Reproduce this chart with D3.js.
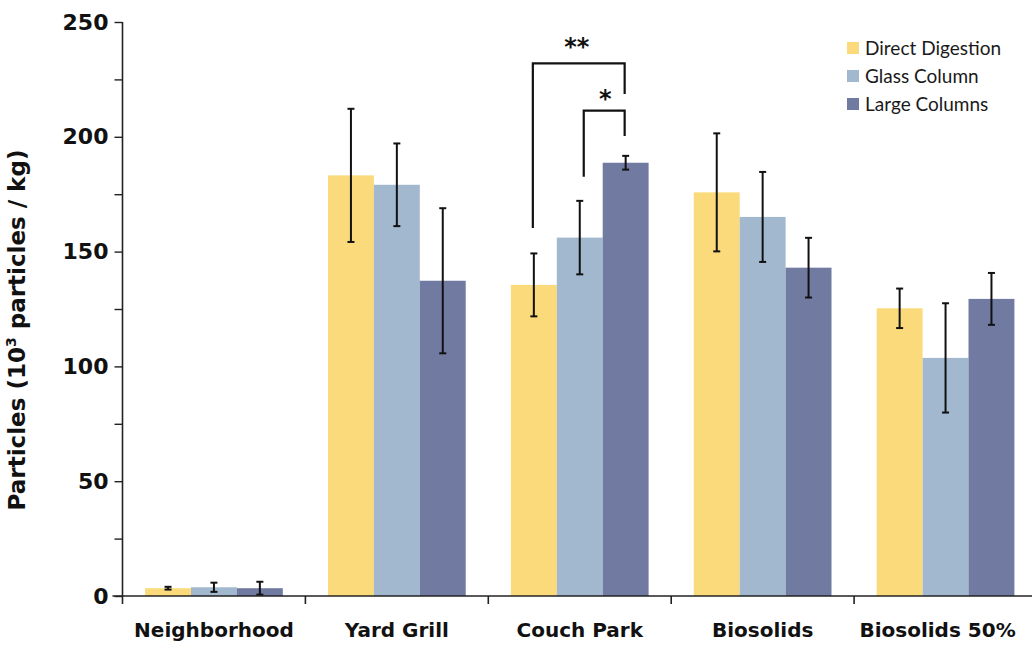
<!DOCTYPE html>
<html>
<head>
<meta charset="utf-8">
<script src="https://cdn.jsdelivr.net/npm/d3@7"></script>
<style>
  body { margin: 0; background: #fff; }
  svg { display: block; }
</style>
</head>
<body>
<div class="chart"></div>
<script>
// data
const categories = ['Neighborhood', 'Yard Grill', 'Couch Park', 'Biosolids', 'Biosolids 50%'];
const seriesNames = ['Direct Digestion', 'Glass Column', 'Large Columns'];
const directDigestion = [3.4, 183.2, 135.5, 175.8, 125.3];
const directDigestionErr = [0.6, 29, 13.7, 25.7, 8.6];
const glassColumn = [3.8, 179.1, 156.1, 165.1, 103.7];
const glassColumnErr = [2, 18, 16, 19.6, 23.8];
const largeColumns = [3.4, 137.3, 188.7, 143, 129.4];
const largeColumnsErr = [2.8, 31.6, 3, 13, 11.3];
const yTicks = [0, 50, 100, 150, 200, 250];
// significance brackets on Couch Park (values in data units)
const brackets = [
    { cat: 'Couch Park', from: 0, to: 2, label: '**', top: 232, fromBottom: 160.3, toBottom: 218.6, gap: 8 },
    { cat: 'Couch Park', from: 1, to: 2, label: '*', top: 211.4, fromBottom: 182.6, toBottom: 200.3, gap: 4 }
];

const colors = ['#FADA7A', '#A1B8CE', '#717BA2'];

const W = 1032, H = 646;
const margin = { top: 22, right: -5, bottom: 50, left: 122.5 };
const width = W - margin.left - margin.right;
const height = H - margin.top - margin.bottom;

const svg = d3.select('.chart')
    .append('svg')
    .attr('width', W)
    .attr('height', H)
    .append('g')
    .attr('transform', 'translate(' + margin.left + ',' + margin.top + ')');

const values = [directDigestion, glassColumn, largeColumns];
const errs = [directDigestionErr, glassColumnErr, largeColumnsErr];
let rows = [];
categories.forEach((c, i) => {
    seriesNames.forEach((s, j) => {
        rows.push({ cat: c, series: s, si: j, v: values[j][i], e: errs[j][i] });
    });
});

// X channel
const x0 = d3.scaleBand().domain(categories).range([0, width]).padding(0);
const groupW = x0.bandwidth() * 0.753;
const x1 = d3.scaleBand().domain(seriesNames)
    .range([(x0.bandwidth() - groupW) / 2, (x0.bandwidth() + groupW) / 2]);

// Y channel
const y = d3.scaleLinear().domain([0, 250]).range([height, 0]);

// Bars
svg.selectAll('.bar')
    .data(rows)
    .enter()
    .append('rect')
    .attr('class', 'bar')
    .attr('x', d => x0(d.cat) + x1(d.series))
    .attr('width', x1.bandwidth())
    .attr('y', d => y(d.v))
    .attr('height', d => y(0) - y(d.v))
    .attr('fill', d => colors[d.si]);

// Error bars
const capW = 3.5;
const cx = d => x0(d.cat) + x1(d.series) + x1.bandwidth() / 2;
const eb = svg.selectAll('.err')
    .data(rows)
    .enter()
    .append('g')
    .attr('class', 'err')
    .attr('stroke', '#111')
    .attr('stroke-width', 2);
eb.append('line')
    .attr('x1', cx).attr('x2', cx)
    .attr('y1', d => y(d.v + d.e))
    .attr('y2', d => y(Math.max(0, d.v - d.e)));
eb.append('line')
    .attr('x1', d => cx(d) - capW).attr('x2', d => cx(d) + capW)
    .attr('y1', d => y(d.v + d.e))
    .attr('y2', d => y(d.v + d.e));
eb.append('line')
    .attr('x1', d => cx(d) - capW).attr('x2', d => cx(d) + capW)
    .attr('y1', d => y(Math.max(0, d.v - d.e)))
    .attr('y2', d => y(Math.max(0, d.v - d.e)));

// Significance brackets
brackets.forEach(b => {
    const xa = x0(b.cat) + x1(seriesNames[b.from]) + x1.bandwidth() / 2 + (b.from === 1 ? 4 : -1);
    const xb = x0(b.cat) + x1(seriesNames[b.to]) + x1.bandwidth() / 2 - 1;
    svg.append('path')
        .attr('d', 'M' + xa + ',' + y(b.fromBottom) + 'V' + y(b.top) + 'H' + xb + 'V' + y(b.toBottom))
        .attr('fill', 'none')
        .attr('stroke', '#111')
        .attr('stroke-width', 2.2);
    svg.append('text')
        .attr('x', (xa + xb) / 2 + (b.label === '*' ? 1 : -2))
        .attr('y', y(b.top) - b.gap)
        .attr('text-anchor', 'middle')
        .attr('font-family', 'DejaVu Sans, sans-serif')
        .attr('font-weight', 'bold')
        .attr('font-size', '24px')
        .attr('fill', '#111')
        .text(b.label);
});

// Axes
const yAxis = svg.append('g')
    .attr('class', 'y_axis')
    .call(d3.axisLeft(y).tickValues(d3.range(0, 251, 25)).tickSize(8)
        .tickFormat(d => yTicks.includes(d) ? d : ''));
yAxis.select('.domain').attr('stroke', '#222').attr('stroke-width', 1.6).attr('d', 'M0,' + y(250) + 'V' + y(0));
yAxis.selectAll('.tick line').attr('stroke', '#222').attr('stroke-width', 1.4);
yAxis.selectAll('.tick text')
    .attr('x', -14)
    .attr('font-family', 'DejaVu Sans, sans-serif')
    .attr('font-weight', 'bold')
    .attr('font-size', '22px')
    .attr('fill', '#111');

const xAxis = svg.append('g')
    .attr('class', 'x_axis')
    .attr('transform', 'translate(0,' + height + ')');
xAxis.append('line')
    .attr('x1', -10).attr('x2', width)
    .attr('stroke', '#222').attr('stroke-width', 1.6);
xAxis.selectAll('.tk')
    .data(categories)
    .enter()
    .append('line')
    .attr('x1', d => x0(d)).attr('x2', d => x0(d))
    .attr('y1', 0).attr('y2', 8)
    .attr('stroke', '#222').attr('stroke-width', 1.6);
xAxis.selectAll('.lbl')
    .data(categories)
    .enter()
    .append('text')
    .attr('x', d => x0(d) + x0.bandwidth() / 2 - (d === 'Biosolids 50%' ? 8 : 0))
    .attr('y', 41)
    .attr('text-anchor', 'middle')
    .attr('font-family', 'DejaVu Sans, sans-serif')
    .attr('font-weight', 'bold')
    .attr('font-size', '20px')
    .attr('fill', '#111')
    .text(d => d);

// Y title
const title = svg.append('text')
    .attr('transform', 'translate(-98,' + (330 - margin.top) + ') rotate(-90)')
    .attr('text-anchor', 'middle')
    .attr('font-family', 'DejaVu Sans, sans-serif')
    .attr('font-weight', 'bold')
    .attr('font-size', '23px')
    .attr('fill', '#111');
title.append('tspan').text('Particles (10');
title.append('tspan').attr('font-size', '14px').attr('dy', -9).text('3');
title.append('tspan').attr('dy', 9).text(' particles / kg)');

// Legend
const legend = svg.append('g')
    .attr('transform', 'translate(' + (847 - margin.left) + ',' + (42 - margin.top) + ')');
seriesNames.forEach((s, i) => {
    legend.append('rect')
        .attr('x', 0).attr('y', i * 28)
        .attr('width', 12).attr('height', 12)
        .attr('fill', colors[i]);
    legend.append('text')
        .attr('x', 18).attr('y', i * 28 + 13)
        .attr('font-family', 'Lato, sans-serif')
        .attr('font-size', '19px')
        .attr('fill', '#1a1a1a')
        .text(s);
});
</script>
</body>
</html>
